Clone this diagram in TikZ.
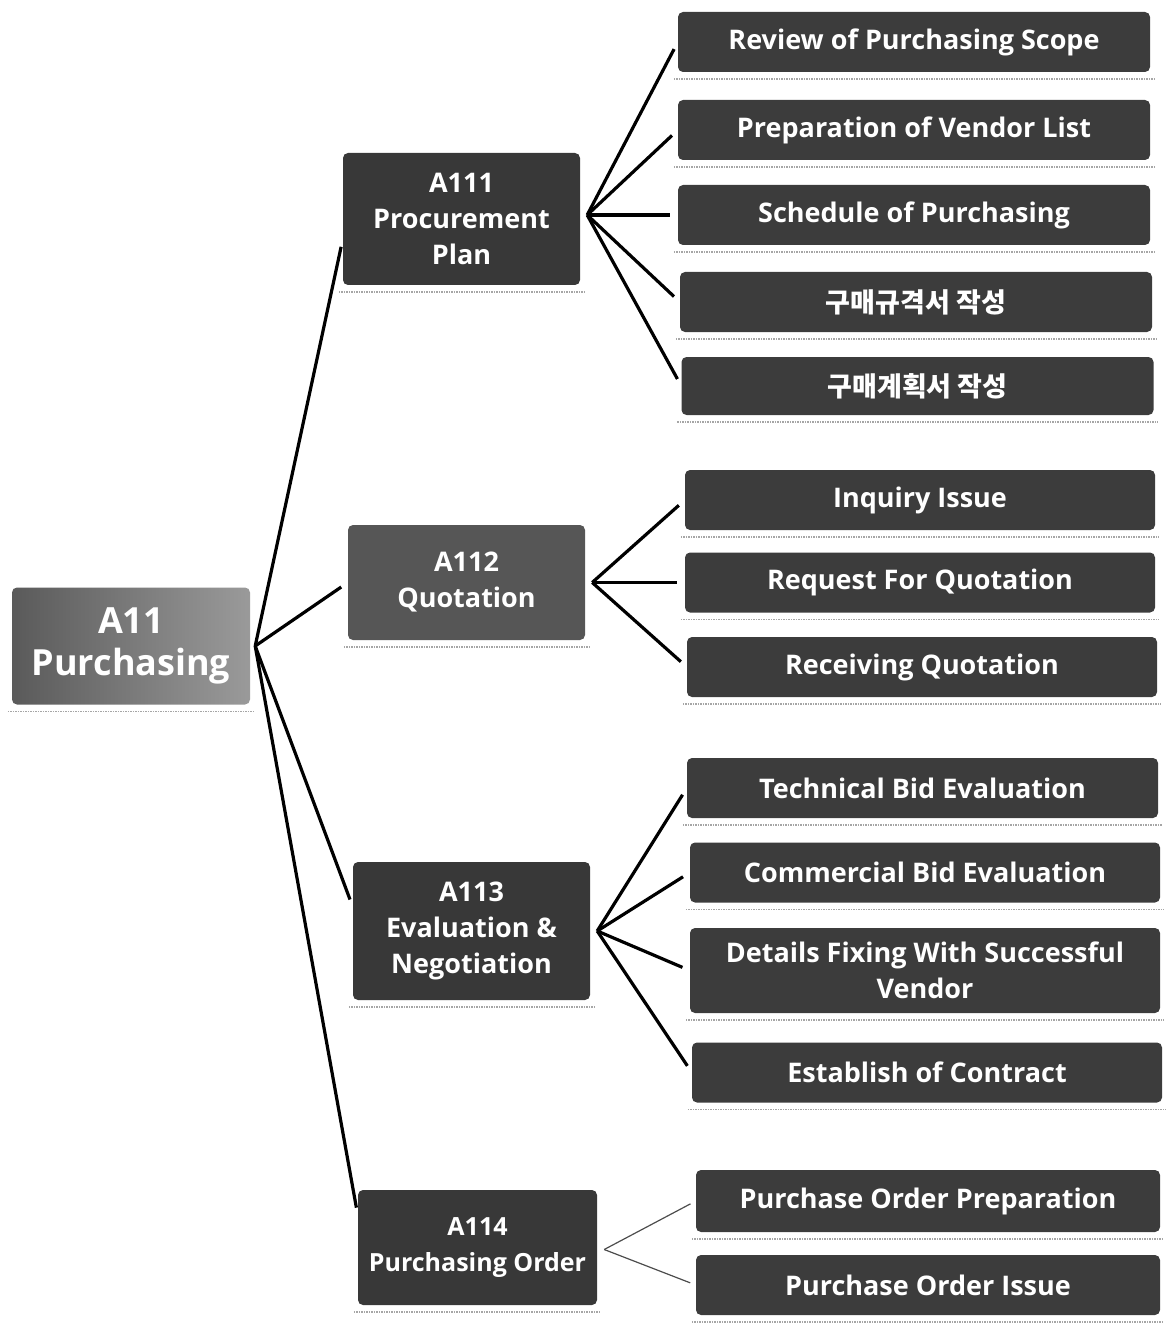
\documentclass[tikz,border=0pt]{standalone}
\usepackage{fontspec}
\setmainfont{Open Sans}
\newfontfamily\cjk{Noto Sans CJK KR}
\begin{document}
\begin{tikzpicture}[x=1pt,y=-1pt,
  box/.style={rounded corners=5pt, text=white, font=\bfseries\fontsize{27}{36}\selectfont, align=center, inner sep=0pt},
  leaf/.style={box, fill=leafgray, minimum width=472pt, minimum height=60pt},
  mid/.style={box, fill=midgray, minimum width=237pt},
  link/.style={line width=3.2pt, black, shorten >=8pt},
  thin/.style={line width=1.2pt, black!70, shorten >=6pt},
  shade/.style={line width=1.5pt, black!35, densely dotted}
]
\definecolor{leafgray}{HTML}{3C3C3C}
\definecolor{midgray}{HTML}{383838}
\definecolor{rootdark}{HTML}{5A5A5A}
\definecolor{rootlight}{HTML}{9A9A9A}
\useasboundingbox (0,0) rectangle (1166,1329);

% root
\node[box, left color=rootdark, right color=rootlight, minimum width=238pt, minimum height=117pt,
      font=\bfseries\fontsize{36}{42}\selectfont] (root) at (131,646) {A11\\Purchasing};

% second level
\node[mid, minimum height=132pt] (a111) at (461.5,219) {A111\\Procurement\\Plan};
\node[mid, minimum height=115pt, fill=midgray!85!white] (a112) at (466.5,582.5) {A112\\Quotation};
\node[mid, minimum height=138pt] (a113) at (471.5,931) {A113\\Evaluation \&\\Negotiation};
\node[mid, minimum height=115pt, minimum width=239pt, font=\bfseries\fontsize{25}{36}\selectfont] (a114) at (477.5,1247.5) {A114\\Purchasing Order};

% leaves
\node[leaf] (l1) at (914,42) {Review of Purchasing Scope};
\node[leaf] (l2) at (914,130) {Preparation of Vendor List};
\node[leaf] (l3) at (914,215) {Schedule of Purchasing};
\node[leaf] (l4) at (916,302) {\cjk\bfseries 구매규격서 작성};
\node[leaf, minimum height=58pt] (l5) at (917.5,386) {\cjk\bfseries 구매계획서 작성};

\node[leaf, minimum width=470pt] (q1) at (920,500) {Inquiry Issue};
\node[leaf, minimum width=470pt] (q2) at (920,582.5) {Request For Quotation};
\node[leaf, minimum width=470pt] (q3) at (922,667) {Receiving Quotation};

\node[leaf, minimum width=471pt] (e1) at (922.5,788) {Technical Bid Evaluation};
\node[leaf, minimum width=470pt] (e2) at (925,872.5) {Commercial Bid Evaluation};
\node[leaf, minimum width=470pt, minimum height=85pt] (e3) at (925,970.5) {Details Fixing With Successful\\Vendor};
\node[leaf, minimum width=470pt] (e4) at (927,1072.5) {Establish of Contract};

\node[leaf, minimum width=464pt, minimum height=62pt] (p1) at (928,1201) {Purchase Order Preparation};
\node[leaf, minimum width=464pt] (p2) at (928,1285) {Purchase Order Issue};

% shadows
\foreach \n in {root,a111,a112,a113,a114,l1,l2,l3,l4,l5,q1,q2,q3,e1,e2,e3,e4,p1,p2}{
  \draw[shade] ([xshift=-4pt,yshift=-7pt]\n.south west) -- ([xshift=4pt,yshift=-7pt]\n.south east);
}

% connectors from root
\coordinate (rj) at ([xshift=5pt]root.east);
\draw[link] (rj) -- ([yshift=-20pt]a111.west);
\draw[link] (rj) -- (a112.west);
\draw[link] (rj) -- ([yshift=24pt]a113.west);
\draw[link] (rj) -- ([yshift=32pt]a114.west);

% A111 fan
\coordinate (f1) at ([xshift=7pt,yshift=4pt]a111.east);
\foreach \n in {l1,l2,l3,l4,l5}{ \draw[link] (f1) -- (\n.west); }
% A112 fan
\coordinate (f2) at ([xshift=7pt]a112.east);
\foreach \n in {q1,q2,q3}{ \draw[link] (f2) -- (\n.west); }
% A113 fan
\coordinate (f3) at ([xshift=7pt]a113.east);
\foreach \n in {e1,e2,e3,e4}{ \draw[link] (f3) -- (\n.west); }
% A114 fan
\coordinate (f4) at ([xshift=7pt,yshift=-2pt]a114.east);
\foreach \n in {p1,p2}{ \draw[thin] (f4) -- (\n.west); }
\end{tikzpicture}
\end{document}
